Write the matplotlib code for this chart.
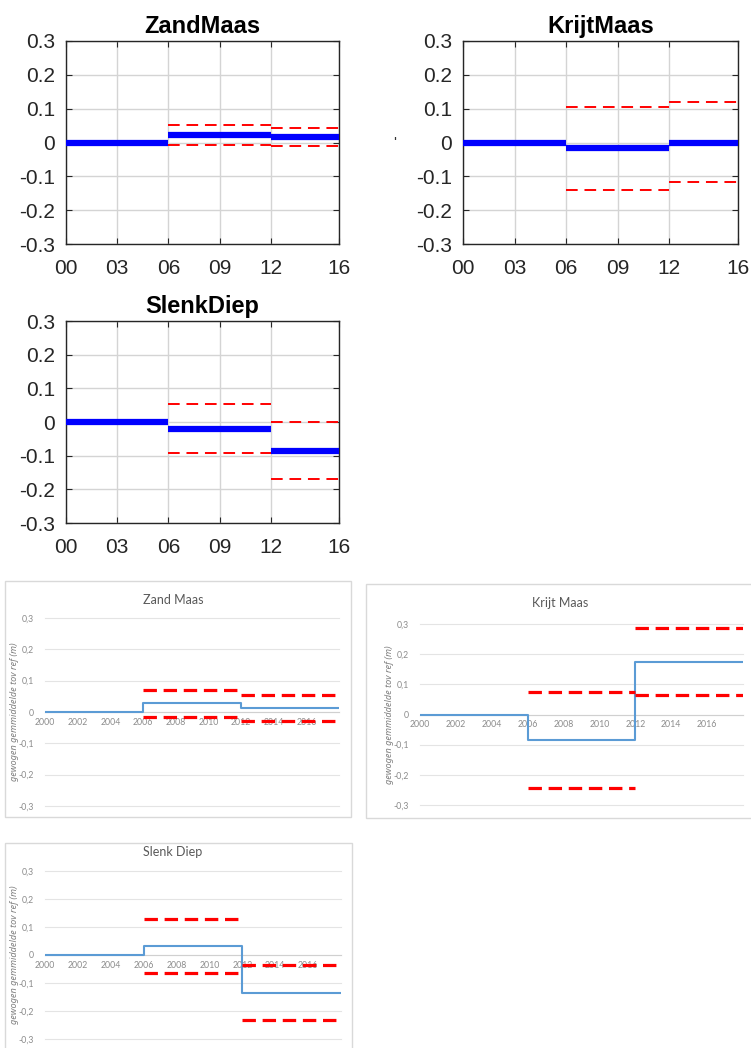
import numpy as np
import matplotlib
matplotlib.use("Agg")
import matplotlib.pyplot as plt
from matplotlib.patches import Rectangle

# ---------------- data ----------------
# MATLAB-style panels (years since 2000)
m_edges = [0, 6, 12, 16]
m_xticks = [0, 3, 6, 9, 12, 16]
m_xticklabels = ["00", "03", "06", "09", "12", "16"]
m_yticks = [-0.3, -0.2, -0.1, 0, 0.1, 0.2, 0.3]
m_yticklabels = ["-0.3", "-0.2", "-0.1", "0", "0.1", "0.2", "0.3"]

m_zand_mean = [0.0, 0.022, 0.016]
m_zand_upper = [np.nan, 0.052, 0.042]
m_zand_lower = [np.nan, -0.006, -0.010]

m_krijt_mean = [0.0, -0.015, 0.0]
m_krijt_upper = [np.nan, 0.106, 0.121]
m_krijt_lower = [np.nan, -0.139, -0.118]

m_slenk_mean = [0.0, -0.022, -0.087]
m_slenk_upper = [np.nan, 0.054, 0.000]
m_slenk_lower = [np.nan, -0.092, -0.170]

# Excel-style panels (calendar years)
e_edges = [2000, 2006, 2012, 2018]
e_xticks = [2000, 2002, 2004, 2006, 2008, 2010, 2012, 2014, 2016]
e_yticks = [-0.3, -0.2, -0.1, 0, 0.1, 0.2, 0.3]
e_yticklabels = ["-0,3", "-0,2", "-0,1", "0", "0,1", "0,2", "0,3"]

e_zand_mean = [0.0, 0.029, 0.012]
e_zand_upper = [np.nan, 0.069, 0.054]
e_zand_lower = [np.nan, -0.015, -0.030]

e_krijt_mean = [0.0, -0.085, 0.174]
e_krijt_upper = [np.nan, 0.075, 0.286]
e_krijt_lower = [np.nan, -0.242, 0.063]

e_slenk_mean = [0.0, 0.033, -0.135]
e_slenk_upper = [np.nan, 0.130, -0.036]
e_slenk_lower = [np.nan, -0.065, -0.231]

# ---------------- figure ----------------
W, H = 751, 1048
fig = plt.figure(figsize=(W / 100, H / 100), dpi=100)
fig.patch.set_facecolor("white")


def ax_px(l, t, r, b):
    return fig.add_axes([l / W, 1 - b / H, (r - l) / W, (b - t) / H])


MFONT = "Liberation Sans"
EFONT = "Lato"


def matlab_panel(box, title, mean, upper, lower):
    ax = ax_px(*box)
    ax.set_xlim(m_edges[0], m_edges[-1])
    ax.set_ylim(-0.3, 0.3)
    ax.set_xticks(m_xticks)
    ax.set_xticklabels(m_xticklabels, fontfamily=MFONT, fontsize=15, color="#262626")
    ax.set_yticks(m_yticks)
    ax.set_yticklabels(m_yticklabels, fontfamily=MFONT, fontsize=15, color="#262626")
    ax.tick_params(axis="both", direction="in", length=4, width=0.8, color="#262626",
                   top=True, right=True)
    ax.tick_params(axis="x", pad=11)
    ax.tick_params(axis="y", pad=8)
    ax.grid(True, color="#d4d4d4", linewidth=1.0)
    ax.set_axisbelow(True)
    for s in ax.spines.values():
        s.set_color("#262626")
        s.set_linewidth(1.0)
    for i in range(len(mean)):
        x0, x1 = m_edges[i], m_edges[i + 1]
        ax.plot([x0, x1], [mean[i], mean[i]], color="#0000ff", lw=4.5,
                solid_capstyle="butt", zorder=3)
        for arr in (upper, lower):
            if not np.isnan(arr[i]):
                ax.plot([x0, x1], [arr[i], arr[i]], color="#ff0000", lw=1.4,
                        dashes=(6, 3.5), zorder=4)
    ax.set_title(title, fontfamily=MFONT, fontsize=17, fontweight="bold", pad=6)
    return ax


matlab_panel((66, 41, 339, 244), "ZandMaas", m_zand_mean, m_zand_upper, m_zand_lower)
matlab_panel((463, 41, 738, 244), "KrijtMaas", m_krijt_mean, m_krijt_upper, m_krijt_lower)
matlab_panel((66, 321, 339, 523), "SlenkDiep", m_slenk_mean, m_slenk_upper, m_slenk_lower)

# stray tick mark next to KrijtMaas
fig.text(395 / W, 1 - 143 / H, "'", fontfamily=MFONT, fontsize=11, color="#333333",
         ha="center", va="center")


def excel_panel(frame, box, title, title_xy, ylabel_x, mean, upper, lower):
    fl, ft, fr, fb = frame
    fig.patches.append(Rectangle((fl / W, 1 - fb / H), (fr - fl) / W, (fb - ft) / H,
                                 transform=fig.transFigure, facecolor="white",
                                 edgecolor="#d9d9d9", linewidth=1.0, zorder=-5))
    ax = ax_px(*box)
    ax.set_zorder(2)
    ax.patch.set_alpha(0)
    ax.set_xlim(e_edges[0], e_edges[-1])
    ax.set_ylim(-0.3, 0.3)
    for y in e_yticks:
        ax.axhline(y, color="#e4e4e4", lw=0.8, zorder=1, clip_on=False)
    for k in ("top", "right", "left"):
        ax.spines[k].set_visible(False)
    ax.spines["bottom"].set_position(("data", 0))
    ax.spines["bottom"].set_color("#d0d0d0")
    ax.spines["bottom"].set_linewidth(0.8)
    ax.set_xticks(e_xticks)
    ax.set_xticklabels([str(v) for v in e_xticks], fontfamily=EFONT, fontsize=6.3,
                       color="#8c8c8c")
    ax.set_yticks(e_yticks)
    ax.set_yticklabels(e_yticklabels, fontfamily=EFONT, fontsize=6.3, color="#8c8c8c")
    ax.tick_params(axis="both", length=0)
    ax.tick_params(axis="x", pad=4)
    ax.tick_params(axis="y", pad=8)
    vals = list(mean) + [mean[-1]]
    ax.step(e_edges, vals, where="post", color="#5b9bd5", lw=1.5, zorder=3)
    for i in range(len(mean)):
        x0, x1 = e_edges[i], e_edges[i + 1]
        for arr in (upper, lower):
            if not np.isnan(arr[i]):
                ax.plot([x0, x1], [arr[i], arr[i]], color="#ff0000", lw=2.3,
                        dashes=(4.2, 2.1), solid_capstyle="butt",
                        dash_capstyle="butt", zorder=4)
    fig.text(title_xy[0] / W, 1 - title_xy[1] / H, title, fontfamily=EFONT, fontsize=9,
             color="#595959", ha="center", va="center")
    yc = (box[1] + box[3]) / 2
    fig.text(ylabel_x / W, 1 - yc / H, "gewogen gemmiddelde tov ref (m)",
             fontfamily="Noto Sans", fontsize=6.6, color="#7f7f7f", style="italic",
             rotation=90, ha="center", va="center")
    return ax


excel_panel((5, 581, 351, 817), (45, 618, 339, 806), "Zand Maas", (173, 600), 15,
            e_zand_mean, e_zand_upper, e_zand_lower)
excel_panel((366, 584, 760, 818), (420, 624, 743, 805), "Krijt Maas", (560, 603), 390,
            e_krijt_mean, e_krijt_upper, e_krijt_lower)
excel_panel((5, 843, 352, 1060), (45, 871, 341, 1039), "Slenk Diep", (173, 852), 15,
            e_slenk_mean, e_slenk_upper, e_slenk_lower)

fig.savefig("out.png", dpi=100, facecolor="white")
